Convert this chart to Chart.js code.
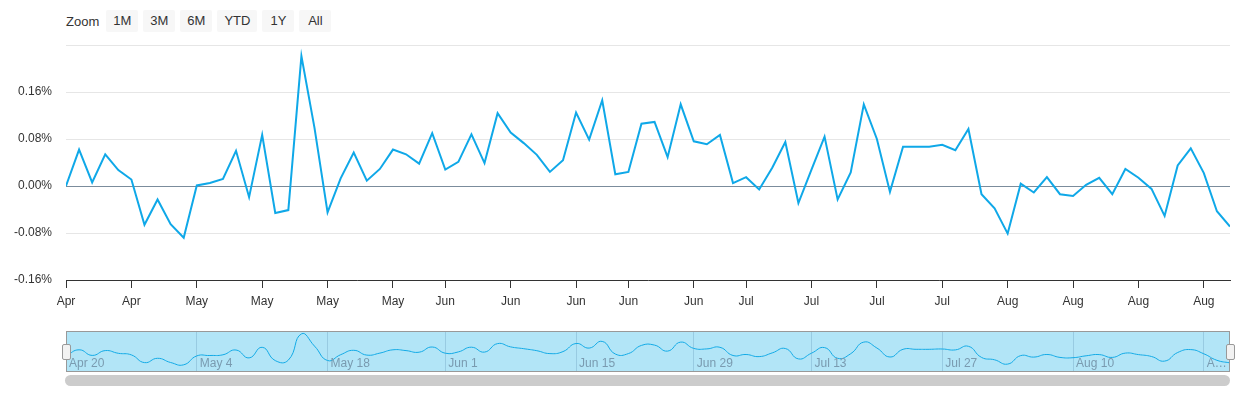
<!DOCTYPE html>
<html>
<head>
<meta charset="utf-8">
<script src="https://cdn.jsdelivr.net/npm/chart.js@4"></script>
<style>
body { margin: 0; width: 1240px; height: 400px; background: #fff; font-family: "Liberation Sans", Arial, sans-serif; position: relative; overflow: hidden; }
#zoom { position: absolute; left: 66px; top: 10px; font-size: 13px; color: #333; display: flex; align-items: center; }
#zoom span.lbl { margin-right: 7px; }
#zoom span.btn { background: #f7f7f7; border-radius: 2px; padding: 0 7px; height: 22px; line-height: 22px; margin-right: 5px; min-width: 18px; text-align: center; }
#main { position: absolute; left: 0; top: 0; }
#nav { position: absolute; left: 66px; top: 331px; }
#scroll { position: absolute; left: 65px; top: 375px; width: 1165px; height: 11px; background: #cccccc; border-radius: 6px; }
.handle { position: absolute; top: 344px; width: 7px; height: 14px; background: #f2f2f2; border: 1px solid #999; border-radius: 2px; }
</style>
</head>
<body>
<div id="zoom"><span class="lbl">Zoom</span><span class="btn">1M</span><span class="btn">3M</span><span class="btn">6M</span><span class="btn">YTD</span><span class="btn">1Y</span><span class="btn">All</span></div>
<canvas id="main"></canvas>
<canvas id="nav"></canvas>
<div id="scroll"></div>
<div class="handle" style="left:62px"></div>
<div class="handle" style="left:1226px"></div>
<script>
// daily change, percent
var values = [
    0, 0.062, 0.006, 0.054, 0.027, 0.011, -0.066, -0.023, -0.065, -0.088,
    0.001, 0.005, 0.012, 0.060, -0.019, 0.087, -0.046, -0.041, 0.221, 0.099,
    -0.045, 0.013, 0.057, 0.009, 0.029, 0.062, 0.054, 0.038, 0.090, 0.028,
    0.041, 0.088, 0.039, 0.124, 0.091, 0.073, 0.053, 0.024, 0.044, 0.125,
    0.079, 0.146, 0.020, 0.024, 0.106, 0.109, 0.049, 0.139, 0.076, 0.071,
    0.087, 0.005, 0.015, -0.006, 0.031, 0.075, -0.029, 0.028, 0.084, -0.023,
    0.023, 0.139, 0.080, -0.010, 0.067, 0.067, 0.067, 0.070, 0.061, 0.097,
    -0.014, -0.038, -0.081, 0.004, -0.011, 0.015, -0.014, -0.017, 0.002, 0.014,
    -0.014, 0.029, 0.014, -0.005, -0.051, 0.035, 0.064, 0.022, -0.043, -0.069
];
// axis ticks: point index -> label
var tickIndex = [0, 5, 10, 15, 20, 25, 29, 34, 39, 43, 48, 52, 57, 62, 67, 72, 77, 82, 87];
var tickText = ["Apr", "Apr", "May", "May", "May", "May", "Jun", "Jun", "Jun", "Jun", "Jun", "Jul", "Jul", "Jul", "Jul", "Aug", "Aug", "Aug", "Aug"];
var navIndex = [0, 10, 20, 29, 39, 48, 57, 67, 77, 87];
var navText = ["Apr 20", "May 4", "May 18", "Jun 1", "Jun 15", "Jun 29", "Jul 13", "Jul 27", "Aug 10", "A\u2026"];
var yTicks = [-0.16, -0.08, 0, 0.08, 0.16];

var labels = values.map(function(v, i) { return i; });
Chart.defaults.font.family = '"Liberation Sans", Arial, sans-serif';
Chart.defaults.animation = false;

var mainCanvas = document.getElementById("main");
mainCanvas.width = 1240; mainCanvas.height = 320;
new Chart(mainCanvas.getContext('2d'), {
    type: 'line',
    data: {
        labels: labels,
        datasets: [{
            data: values,
            borderColor: '#0fa8e8',
            borderWidth: 2,
            pointRadius: 0,
            tension: 0
        }]
    },
    options: {
        responsive: false,
        layout: { padding: { top: 45, right: 10, left: 0, bottom: 0 } },
        plugins: { legend: { display: false }, tooltip: { enabled: false } },
        scales: {
            x: {
                type: 'linear',
                min: 0, max: values.length - 1,
                afterFit: function(s) { s.height = 40; },
                afterBuildTicks: function(s) { s.ticks = tickIndex.map(function(i) { return { value: i }; }); },
                ticks: {
                    autoSkip: false, maxRotation: 0, color: '#333', font: { size: 12 }, padding: 6,
                    callback: function(v) { return tickText[tickIndex.indexOf(v)]; }
                },
                grid: { display: true, drawOnChartArea: false, tickLength: 8, color: '#333' },
                border: { color: '#333' }
            },
            y: {
                min: -0.16, max: 0.24,
                afterFit: function(s) { s.width = 66; },
                afterBuildTicks: function(s) { s.ticks = yTicks.concat([0.24]).map(function(v) { return { value: v }; }); },
                ticks: {
                    color: '#333', font: { size: 12 }, padding: 14,
                    callback: function(v) { return v === 0.24 ? '' : v.toFixed(2) + '%'; }
                },
                grid: {
                    color: function(c) { return c.tick && c.tick.value === 0 ? '#7b8c9c' : '#e6e6e6'; },
                    drawTicks: false
                },
                border: { display: false }
            }
        }
    }
});

// navigator
var navCanvas = document.getElementById("nav");
navCanvas.width = 1164; navCanvas.height = 41;
var navBg = {
    id: 'navBg',
    beforeDraw: function(chart) {
        var c = chart.ctx;
        c.fillStyle = 'rgba(102,204,240,0.5)';
        c.fillRect(0, 0, chart.width, chart.height);
    },
    afterDraw: function(chart) {
        var c = chart.ctx, xs = chart.scales.x;
        c.fillStyle = '#7a9bb0';
        c.font = '12px "Liberation Sans", Arial, sans-serif';
        c.textBaseline = 'bottom';
        navIndex.forEach(function(i, k) { c.fillText(navText[k], xs.getPixelForValue(i) + 3, chart.height - 2); });
        c.strokeStyle = '#999';
        c.lineWidth = 1;
        c.strokeRect(0.5, 0.5, chart.width - 1, chart.height - 1);
    }
};
new Chart(navCanvas.getContext('2d'), {
    type: 'line',
    data: { labels: labels, datasets: [{ data: values, borderColor: '#12aae6', borderWidth: 1, pointRadius: 0, tension: 0.5 }] },
    options: {
        responsive: false,
        layout: { padding: 0 },
        plugins: { legend: { display: false }, tooltip: { enabled: false } },
        scales: {
            x: {
                type: 'linear', min: 0, max: values.length - 1,
                afterBuildTicks: function(s) { s.ticks = navIndex.map(function(i) { return { value: i }; }); },
                ticks: { display: false },
                grid: { color: 'rgba(120,170,200,0.45)', drawTicks: false },
                border: { display: false }
            },
            y: { display: false, min: -0.16, max: 0.25 }
        }
    },
    plugins: [navBg]
});
</script>
</body>
</html>
